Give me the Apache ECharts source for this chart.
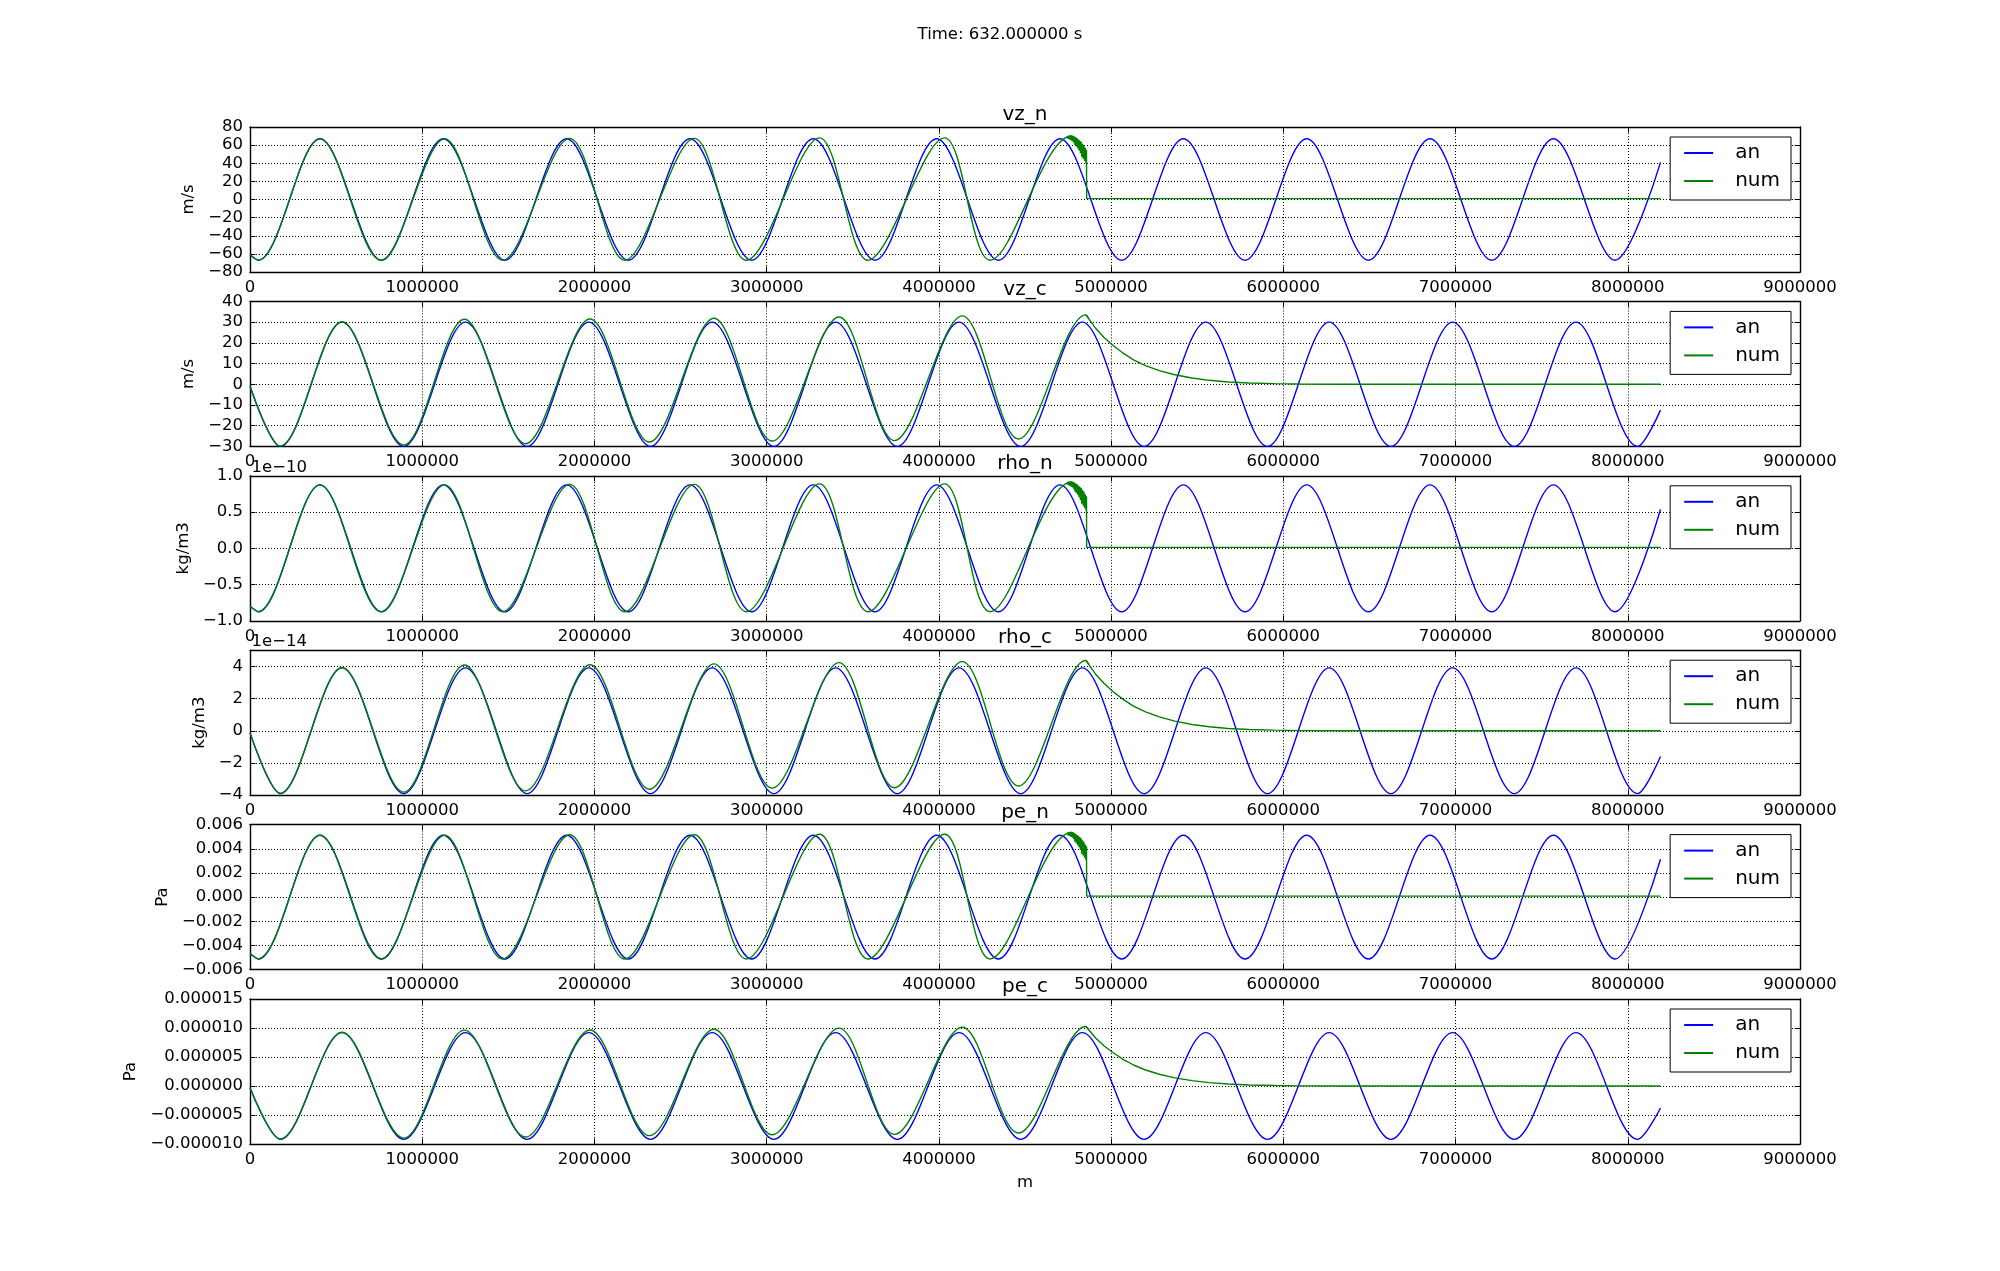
<!DOCTYPE html>
<html><head><meta charset="utf-8">
<script src="https://cdn.jsdelivr.net/npm/echarts@6/dist/echarts.min.js"></script>
<style>html,body{margin:0;padding:0;background:#fff}#c{width:2000px;height:1271px}</style>
</head><body><div id="c"></div><script>
// ---------- DATA (x in metres), read at the crests/troughs of each wave ----------
// analytic ("an") curves, *_n panels
const xAnN = [0, 48000, 406100, 764200, 1122300, 1480400, 1838500, 2196600, 2554700, 2912800, 3270900, 3629000, 3987100, 4345200, 4703300, 5061400, 5419500, 5777600, 6135700, 6493800, 6851900, 7210000, 7568100, 7926200, 8190000];
const vzN_an = [-61, -67, 67, -67, 67, -67, 67, -67, 67, -67, 67, -67, 67, -67, 67, -67, 67, -67, 67, -67, 67, -67, 67, -67, 41];
const rhoN_an = [-0.80, -0.875, 0.875, -0.875, 0.875, -0.875, 0.875, -0.875, 0.875, -0.875, 0.875, -0.875, 0.875, -0.875, 0.875, -0.875, 0.875, -0.875, 0.875, -0.875, 0.875, -0.875, 0.875, -0.875, 0.535];
const peN_an = [-0.00467, -0.00512, 0.00512, -0.00512, 0.00512, -0.00512, 0.00512, -0.00512, 0.00512, -0.00512, 0.00512, -0.00512, 0.00512, -0.00512, 0.00512, -0.00512, 0.00512, -0.00512, 0.00512, -0.00512, 0.00512, -0.00512, 0.00512, -0.00512, 0.00313];

// analytic curves, *_c panels
const xAnC = [0, 176000, 534300, 892500, 1250800, 1609000, 1967300, 2325500, 2683800, 3042000, 3400300, 3758500, 4116800, 4475000, 4833300, 5191500, 5549800, 5908000, 6266300, 6624500, 6982800, 7341000, 7699300, 8057500, 8190000];
const vzC_an = [-1, -30, 30, -30, 30, -30, 30, -30, 30, -30, 30, -30, 30, -30, 30, -30, 30, -30, 30, -30, 30, -30, 30, -30, -12.5];
const rhoC_an = [-0.13, -3.9, 3.9, -3.9, 3.9, -3.9, 3.9, -3.9, 3.9, -3.9, 3.9, -3.9, 3.9, -3.9, 3.9, -3.9, 3.9, -3.9, 3.9, -3.9, 3.9, -3.9, 3.9, -3.9, -1.6];
const peC_an = [-0.3e-6, -9.2e-6, 9.2e-6, -9.2e-6, 9.2e-6, -9.2e-6, 9.2e-6, -9.2e-6, 9.2e-6, -9.2e-6, 9.2e-6, -9.2e-6, 9.2e-6, -9.2e-6, 9.2e-6, -9.2e-6, 9.2e-6, -9.2e-6, 9.2e-6, -9.2e-6, 9.2e-6, -9.2e-6, 9.2e-6, -9.2e-6, -3.8e-6];

// numerical ("num") curves, *_n panels: waves ...
const xNumN = [0, 48000, 406100, 760000, 1130000, 1467000, 1856000, 2176000, 2580000, 2882000, 3307000, 3588000, 4033000, 4297000, 4770000, 4830000];
const vzN_num = [-61, -67, 67, -67, 67, -67, 67.5, -67, 67.5, -67, 68, -67, 68, -67, 70, 62];
const rhoN_num = [-0.80, -0.875, 0.875, -0.875, 0.875, -0.875, 0.882, -0.875, 0.882, -0.875, 0.888, -0.875, 0.888, -0.875, 0.914, 0.81];
const peN_num = [-0.00467, -0.00512, 0.00512, -0.00512, 0.00512, -0.00512, 0.00516, -0.00512, 0.00516, -0.00512, 0.0052, -0.00512, 0.0052, -0.00512, 0.00535, 0.00474];
// ... then the noisy front, the drop and the flat tail
const xNumNb = [4746000, 4750000, 4754000, 4758000, 4762000, 4766000, 4770000, 4774000, 4778000, 4782000, 4786000, 4790000, 4794000, 4798000, 4802000, 4806000, 4810000, 4814000, 4818000, 4822000, 4826000, 4830000, 4834000, 4838000, 4842000, 4846000, 4850000, 4854000, 4857000, 4858000, 8190000];
const vzN_numb = [70, 67, 70.3, 66.3, 70.5, 65.5, 70.5, 64.5, 70, 63, 69, 60, 68, 58.5, 67, 56.5, 65.5, 54, 64.5, 51, 63, 47, 61.5, 45, 60, 42.5, 57, 40, 55, 1, 1];
const rhoN_numb = [0.914, 0.875, 0.918, 0.866, 0.921, 0.855, 0.921, 0.842, 0.914, 0.823, 0.901, 0.784, 0.888, 0.764, 0.875, 0.738, 0.855, 0.705, 0.842, 0.666, 0.823, 0.614, 0.803, 0.588, 0.784, 0.555, 0.744, 0.522, 0.718, 0.013, 0.013];
const peN_numb = [0.00535, 0.00512, 0.00537, 0.00507, 0.00539, 0.005, 0.00539, 0.00493, 0.00535, 0.00481, 0.00527, 0.00458, 0.0052, 0.00447, 0.00512, 0.00432, 0.005, 0.00413, 0.00493, 0.0039, 0.00481, 0.00359, 0.0047, 0.00344, 0.00458, 0.00325, 0.00435, 0.00306, 0.0042, 0.00008, 0.00008];

// numerical curves, *_c panels: waves ...
const xNumC = [0, 176000, 534300, 892500, 1245000, 1600000, 1974000, 2319000, 2694000, 3032000, 3420000, 3742000, 4136000, 4462000, 4854000, 4870000];
const vzC_num = [-1, -29.8, 30.2, -29.3, 31.4, -28.7, 31.5, -27.9, 31.9, -27.4, 32.5, -27.2, 33, -26.4, 33.5, 31.7];
const rhoC_num = [-0.13, -3.87, 3.93, -3.81, 4.08, -3.73, 4.1, -3.63, 4.15, -3.56, 4.23, -3.54, 4.29, -3.43, 4.36, 4.12];
const peC_num = [-0.31e-6, -9.14e-6, 9.26e-6, -8.99e-6, 9.63e-6, -8.8e-6, 9.66e-6, -8.56e-6, 9.78e-6, -8.4e-6, 9.97e-6, -8.34e-6, 10.12e-6, -8.1e-6, 10.27e-6, 9.7e-6];
// ... then the decaying tail
const xNumCb = [4854000, 4880000, 4910000, 4960000, 5010000, 5070000, 5130000, 5200000, 5280000, 5370000, 5470000, 5570000, 5680000, 5800000, 5950000, 6100000, 6300000, 8190000];
const vzC_numb = [33.5, 30.5, 27, 22.5, 18.8, 15, 11.8, 9, 6.6, 4.6, 3, 1.9, 1.1, 0.6, 0.3, 0.1, 0, 0];
const rhoC_numb = [4.36, 3.97, 3.51, 2.93, 2.44, 1.95, 1.53, 1.17, 0.86, 0.6, 0.39, 0.25, 0.14, 0.08, 0.04, 0.01, 0, 0];
const peC_numb = [10.27e-6, 9.35e-6, 8.28e-6, 6.9e-6, 5.77e-6, 4.6e-6, 3.62e-6, 2.76e-6, 2.02e-6, 1.41e-6, 0.92e-6, 0.58e-6, 0.34e-6, 0.18e-6, 0.09e-6, 0.03e-6, 0, 0];

// text
const figTitle = 'Time: 632.000000 s';
const panelTitles = ['vz_n', 'vz_c', 'rho_n', 'rho_c', 'pe_n', 'pe_c'];
const yUnits = ['m/s', 'm/s', 'kg/m3', 'kg/m3', 'Pa', 'Pa'];
const offsetTexts = ['', '', '1e\u221210', '1e\u221214', '', ''];
const xName = 'm';
const legendNames = ['an', 'num'];
// y axis tick setup per panel: [min, max, step, decimals]
const yTicks = [[-80, 80, 20, 0], [-30, 40, 10, 0], [-1, 1, 0.5, 1], [-4, 5, 2, 0], [-0.006, 0.006, 0.002, 3], [-0.00001, 0.000015, 0.000005, 6]];
const xTicks = [0, 9000000, 1000000];

// ---------- LAYOUT ----------
const F = 'DejaVu Sans';
const GL = 250, GW = 1550, GH = 145;
const tops = [127, 301.4, 475.8, 650.2, 824.6, 999];
const nameGaps = [38, 38, 45, 31, 67, 98];

const anX = [xAnN, xAnC, xAnN, xAnC, xAnN, xAnC];
const anY = [vzN_an, vzC_an, rhoN_an, rhoC_an, peN_an, peC_an];
const numX = [xNumN, xNumC, xNumN, xNumC, xNumN, xNumC];
const numY = [vzN_num, vzC_num, rhoN_num, rhoC_num, peN_num, peC_num];
const tailX = [xNumNb, xNumCb, xNumNb, xNumCb, xNumNb, xNumCb];
const tailY = [vzN_numb, vzC_numb, rhoN_numb, rhoC_numb, peN_numb, peC_numb];

const zip = (xs, ys) => xs.map((x, i) => [x, ys[i]]);
function yfmt(dec) {
  return v => { const r = Math.abs(v) < 1e-12 ? 0 : v; return (r < 0 ? '\u2212' : '') + Math.abs(r).toFixed(dec); };
}
const BLACK = '#000', BLUE = '#0000ff', GREEN = '#008000';
const axLine = {show: true, onZero: false, lineStyle: {color: BLACK, width: 1.4}};
const axTick = {show: true, inside: true, length: 5.5, lineStyle: {color: BLACK, width: 1}};
const dotted = {show: true, lineStyle: {color: BLACK, width: 1, type: [1, 2]}};
const lab = {color: BLACK, fontSize: 16.5, fontFamily: F};
const SM = 1 / 3;

const grid = [], xAxis = [], yAxis = [], series = [], legend = [], graphic = [];
panelTitles.forEach((t, i) => {
  grid.push({left: GL, top: tops[i], width: GW, height: GH, show: false});
  const [ymin, ymax, ystep, dec] = yTicks[i];
  xAxis.push({type: 'value', gridIndex: i, min: xTicks[0], max: xTicks[1], interval: xTicks[2], position: 'bottom',
    axisLine: axLine, axisTick: axTick, splitLine: dotted,
    axisLabel: Object.assign({margin: 7, formatter: v => String(Math.round(v))}, lab),
    name: i === 5 ? xName : '', nameLocation: 'middle', nameGap: 30, nameTextStyle: lab});
  yAxis.push({type: 'value', gridIndex: i, min: ymin, max: ymax, interval: ystep, position: 'left',
    axisLine: axLine, axisTick: axTick, splitLine: dotted,
    axisLabel: Object.assign({margin: 7, formatter: yfmt(dec), showMaxLabel: (ymax / ystep) % 1 === 0 ? null : false}, lab),
    name: yUnits[i], nameLocation: 'middle', nameRotate: 90, nameGap: nameGaps[i], nameTextStyle: lab});
  series.push({name: legendNames[0], type: 'line', xAxisIndex: i, yAxisIndex: i, data: zip(anX[i], anY[i]),
    smooth: SM, symbol: 'none', showSymbol: false, lineStyle: {color: BLUE, width: 1.4}, itemStyle: {color: BLUE}, z: 3});
  series.push({name: legendNames[1], type: 'line', xAxisIndex: i, yAxisIndex: i, data: zip(numX[i], numY[i]),
    smooth: SM, symbol: 'none', showSymbol: false, lineStyle: {color: GREEN, width: 1.4}, itemStyle: {color: GREEN}, z: 4});
  series.push({name: legendNames[1], type: 'line', xAxisIndex: i, yAxisIndex: i, data: zip(tailX[i], tailY[i]),
    smooth: false, symbol: 'none', showSymbol: false, lineStyle: {color: GREEN, width: 1.4}, itemStyle: {color: GREEN}, z: 4});
  legend.push({data: legendNames, orient: 'vertical', right: 209, top: tops[i] + 10, itemWidth: 29, itemHeight: 14, itemGap: 8,
    padding: [6, 11, 9, 13], borderColor: BLACK, borderWidth: 1, backgroundColor: '#fff', selectedMode: false, z: 10,
    itemStyle: {opacity: 0},
    formatter: n => '{p|' + n + '}',
    textStyle: {color: BLACK, fontSize: 20, fontFamily: F, rich: {p: {padding: [0, 0, 0, 17], fontSize: 20, fontFamily: F, color: BLACK}}}});
  graphic.push({type: 'text', x: GL + GW / 2, y: tops[i] - 12, z: 20,
    style: {text: t, font: '20px "DejaVu Sans"', fill: BLACK, textAlign: 'center', textVerticalAlign: 'middle'}});
  if (offsetTexts[i]) graphic.push({type: 'text', x: GL + 1.5, y: tops[i] - 8, z: 20,
    style: {text: offsetTexts[i], font: '16.5px "DejaVu Sans"', fill: BLACK, textAlign: 'left', textVerticalAlign: 'middle'}});
});
// mirror axes (top / right) carrying inward ticks, like the reference frame
panelTitles.forEach((t, i) => {
  const [ymin, ymax, ystep] = yTicks[i];
  xAxis.push({type: 'value', gridIndex: i, min: xTicks[0], max: xTicks[1], interval: xTicks[2], position: 'top',
    axisLine: axLine, axisTick: axTick, splitLine: {show: false}, axisLabel: {show: false}});
  yAxis.push({type: 'value', gridIndex: i, min: ymin, max: ymax, interval: ystep, position: 'right',
    axisLine: axLine, axisTick: axTick, splitLine: {show: false}, axisLabel: {show: false}});
});
graphic.push({type: 'text', x: 1000, y: 34.5, z: 20,
  style: {text: figTitle, font: '16.5px "DejaVu Sans"', fill: BLACK, textAlign: 'center', textVerticalAlign: 'middle'}});

const chart = echarts.init(document.getElementById('c'), null, {renderer: 'canvas', width: 2000, height: 1271});
chart.setOption({backgroundColor: '#fff', animation: false, grid, xAxis, yAxis, series, legend, graphic});
</script></body></html>
